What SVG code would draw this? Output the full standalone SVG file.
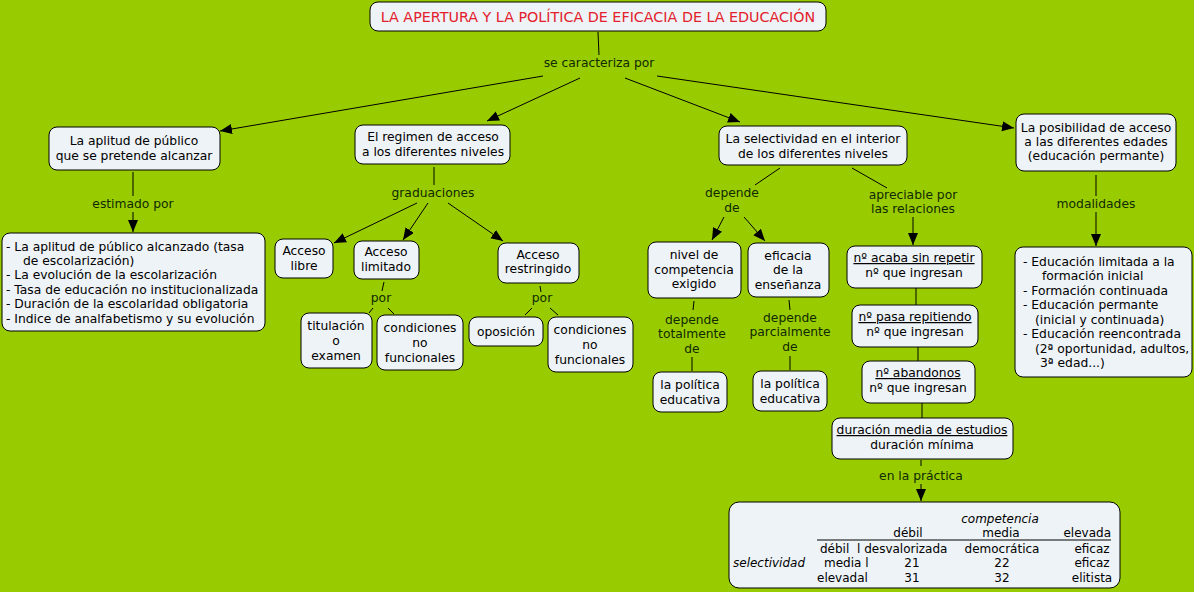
<svg xmlns="http://www.w3.org/2000/svg" width="1194" height="592" viewBox="0 0 1194 592">
<defs>
<marker id="ah" markerUnits="userSpaceOnUse" markerWidth="13" markerHeight="11" refX="12" refY="5" orient="auto">
<path d="M0,0 L12,5 L0,10 z" fill="#000"/>
</marker>
<style>
text{font-family:"DejaVu Sans",Verdana,sans-serif;font-size:12.3px;fill:#000}
.n{fill:#eef3f7;stroke:#000;stroke-width:1}
.c{text-anchor:middle}
.lb{text-anchor:middle;fill:#0f2a00}
.ln{stroke:#000;stroke-width:1;fill:none}
.ar{stroke:#000;stroke-width:1;fill:none;marker-end:url(#ah)}
.u{text-decoration:underline}
.i{font-style:italic}
.t{font-size:12px}
</style>
</defs>
<rect width="1194" height="592" fill="#99cc00"/>

<g id="connectors">
<line class="ln" x1="598" y1="32" x2="599" y2="55"/>
<line class="ar" x1="543" y1="76" x2="220" y2="131"/>
<line class="ar" x1="580" y1="78" x2="487" y2="121"/>
<line class="ar" x1="625" y1="78" x2="740" y2="122"/>
<line class="ar" x1="657" y1="76" x2="1014" y2="128"/>
<line class="ln" x1="133" y1="172" x2="133" y2="196"/>
<line class="ar" x1="133" y1="212" x2="133" y2="232"/>
<line class="ln" x1="434" y1="167" x2="434" y2="185"/>
<line class="ar" x1="417" y1="203" x2="334" y2="243"/>
<line class="ar" x1="428" y1="203" x2="403" y2="240"/>
<line class="ar" x1="448" y1="203" x2="503" y2="241"/>
<line class="ln" x1="384" y1="282" x2="382" y2="291"/>
<line class="ln" x1="373" y1="308" x2="369" y2="313"/>
<line class="ln" x1="388" y1="308" x2="394" y2="314"/>
<line class="ln" x1="540" y1="286" x2="541" y2="292"/>
<line class="ln" x1="532" y1="308" x2="525" y2="315"/>
<line class="ln" x1="550" y1="308" x2="558" y2="315"/>
<line class="ln" x1="780" y1="168" x2="755" y2="185"/>
<line class="ar" x1="724" y1="217" x2="712" y2="240"/>
<line class="ar" x1="744" y1="217" x2="765" y2="241"/>
<line class="ln" x1="694" y1="301" x2="693" y2="310"/>
<line class="ln" x1="692" y1="357" x2="692" y2="371"/>
<line class="ln" x1="789" y1="300" x2="790" y2="310"/>
<line class="ln" x1="790" y1="356" x2="790" y2="370"/>
<line class="ln" x1="852" y1="168" x2="887" y2="188"/>
<line class="ar" x1="913" y1="217" x2="913" y2="245"/>
<line class="ln" x1="916" y1="288" x2="916" y2="305"/>
<line class="ln" x1="918" y1="347" x2="918" y2="361"/>
<line class="ln" x1="922" y1="403" x2="922" y2="418"/>
<line class="ln" x1="921" y1="460" x2="921" y2="466"/>
<line class="ar" x1="921" y1="484" x2="921" y2="501"/>
<line class="ln" x1="1096" y1="175" x2="1096" y2="196"/>
<line class="ar" x1="1096" y1="212" x2="1096" y2="246"/>
</g>

<g id="labels">
<text class="lb" x="599" y="67">se caracteriza por</text>
<text class="lb" x="133" y="208">estimado por</text>
<text class="lb" x="433" y="197">graduaciones</text>
<text class="lb" x="381" y="302">por</text>
<text class="lb" x="542" y="302">por</text>
<text class="lb" x="732" y="197">depende</text>
<text class="lb" x="732" y="212">de</text>
<text class="lb" x="692" y="324">depende</text>
<text class="lb" x="692" y="338">totalmente</text>
<text class="lb" x="692" y="353">de</text>
<text class="lb" x="790" y="322">depende</text>
<text class="lb" x="790" y="336">parcialmente</text>
<text class="lb" x="790" y="351">de</text>
<text class="lb" x="913" y="199">apreciable por</text>
<text class="lb" x="913" y="213">las relaciones</text>
<text class="lb" x="921" y="480">en la práctica</text>
<text class="lb" x="1096" y="208">modalidades</text>
</g>

<g id="title">
<rect class="n" x="370" y="2" width="456" height="29" rx="8"/>
<text class="c" x="598" y="22" style="fill:#e3202b;font-size:14.3px">LA APERTURA Y LA POLÍTICA DE EFICACIA DE LA EDUCACIÓN</text>
</g>

<g id="n-aplitud">
<rect class="n" x="49" y="127" width="171" height="43" rx="8"/>
<text class="c" x="134" y="145">La aplitud de público</text>
<text class="c" x="134" y="160">que se pretende alcanzar</text>
</g>

<g id="n-indicadores">
<rect class="n" x="2" y="233" width="263" height="98" rx="8"/>
<text x="6" y="251">- La aplitud de público alcanzado (tasa</text>
<text x="23" y="265">de escolarización)</text>
<text x="6" y="279">- La evolución de la escolarización</text>
<text x="6" y="294">- Tasa de educación no institucionalizada</text>
<text x="6" y="308">- Duración de la escolaridad obligatoria</text>
<text x="6" y="323">- Indice de analfabetismo y su evolución</text>
</g>

<g id="n-regimen">
<rect class="n" x="355" y="125" width="155" height="39" rx="8"/>
<text class="c" x="433" y="141">El regimen de acceso</text>
<text class="c" x="433" y="156">a los diferentes niveles</text>
</g>

<g id="n-libre">
<rect class="n" x="275" y="239" width="58" height="39" rx="8"/>
<text class="c" x="304" y="255">Acceso</text>
<text class="c" x="304" y="270">libre</text>
</g>

<g id="n-limitado">
<rect class="n" x="354" y="241" width="65" height="38" rx="8"/>
<text class="c" x="386" y="256">Acceso</text>
<text class="c" x="386" y="271">limitado</text>
</g>

<g id="n-restringido">
<rect class="n" x="498" y="243" width="81" height="40" rx="8"/>
<text class="c" x="538" y="259">Acceso</text>
<text class="c" x="538" y="273">restringido</text>
</g>

<g id="n-titulacion">
<rect class="n" x="301" y="313" width="71" height="55" rx="8"/>
<text class="c" x="336" y="330">titulación</text>
<text class="c" x="336" y="345">o</text>
<text class="c" x="336" y="360">examen</text>
</g>

<g id="n-condiciones1">
<rect class="n" x="377" y="315" width="86" height="55" rx="8"/>
<text class="c" x="420" y="332">condiciones</text>
<text class="c" x="420" y="347">no</text>
<text class="c" x="420" y="362">funcionales</text>
</g>

<g id="n-oposicion">
<rect class="n" x="469" y="317" width="74" height="29" rx="8"/>
<text class="c" x="506" y="336">oposición</text>
</g>

<g id="n-condiciones2">
<rect class="n" x="548" y="317" width="85" height="55" rx="8"/>
<text class="c" x="590" y="334">condiciones</text>
<text class="c" x="590" y="349">no</text>
<text class="c" x="590" y="364">funcionales</text>
</g>

<g id="n-selectividad">
<rect class="n" x="719" y="126" width="188" height="39" rx="8"/>
<text class="c" x="813" y="143">La selectividad en el interior</text>
<text class="c" x="813" y="158">de los diferentes niveles</text>
</g>

<g id="n-nivel">
<rect class="n" x="648" y="242" width="93" height="56" rx="8"/>
<text class="c" x="694" y="259">nivel de</text>
<text class="c" x="694" y="274">competencia</text>
<text class="c" x="694" y="288">exigido</text>
</g>

<g id="n-eficacia">
<rect class="n" x="748" y="243" width="81" height="54" rx="8"/>
<text class="c" x="788" y="260">eficacia</text>
<text class="c" x="788" y="274">de la</text>
<text class="c" x="788" y="289">enseñanza</text>
</g>

<g id="n-politica1">
<rect class="n" x="653" y="372" width="74" height="40" rx="8"/>
<text class="c" x="690" y="389">la política</text>
<text class="c" x="690" y="404">educativa</text>
</g>

<g id="n-politica2">
<rect class="n" x="753" y="371" width="74" height="40" rx="8"/>
<text class="c" x="790" y="388">la política</text>
<text class="c" x="790" y="403">educativa</text>
</g>

<g id="n-acaba">
<rect class="n" x="847" y="246" width="135" height="42" rx="8"/>
<text class="c u" x="914" y="262">nº acaba sin repetir</text>
<text class="c" x="914" y="277">nº que ingresan</text>
</g>

<g id="n-pasa">
<rect class="n" x="852" y="305" width="126" height="42" rx="8"/>
<text class="c u" x="915" y="321">nº pasa repitiendo</text>
<text class="c" x="915" y="336">nº que ingresan</text>
</g>

<g id="n-abandonos">
<rect class="n" x="862" y="361" width="113" height="42" rx="8"/>
<text class="c u" x="918" y="377">nº abandonos</text>
<text class="c" x="918" y="392">nº que ingresan</text>
</g>

<g id="n-duracion">
<rect class="n" x="832" y="418" width="181" height="41" rx="8"/>
<text class="c u" x="922" y="434">duración media de estudios</text>
<text class="c" x="922" y="449">duración mínima</text>
</g>

<g id="n-tabla">
<rect class="n" x="729" y="502" width="391" height="86" rx="10"/>
<text class="c i t" x="1000" y="523">competencia</text>
<text class="c t" x="908" y="537">débil</text>
<text class="c t" x="1001" y="537">media</text>
<text class="t" x="1111" y="537" style="text-anchor:end">elevada</text>
<line x1="817" y1="540" x2="1111" y2="540" stroke="#000" stroke-width="1"/>
<text class="t" x="820" y="553">débil</text>
<text class="t" x="857" y="553">l desvalorizada</text>
<text class="c t" x="1002" y="553">democrática</text>
<text class="c t" x="1092" y="553">eficaz</text>
<text class="i t" x="733" y="567">selectividad</text>
<text class="t" x="824" y="567">media l</text>
<text class="c t" x="912" y="567">21</text>
<text class="c t" x="1002" y="567">22</text>
<text class="c t" x="1092" y="567">eficaz</text>
<text class="t" x="817" y="582">elevadal</text>
<text class="c t" x="912" y="582">31</text>
<text class="c t" x="1002" y="582">32</text>
<text class="c t" x="1092" y="582">elitista</text>
</g>

<g id="n-posibilidad">
<rect class="n" x="1016" y="114" width="160" height="57" rx="8"/>
<text class="c" x="1096" y="132">La posibilidad de acceso</text>
<text class="c" x="1096" y="146">a las diferentes edades</text>
<text class="c" x="1096" y="160">(educación permante)</text>
</g>

<g id="n-modalidades">
<rect class="n" x="1015" y="247" width="177" height="130" rx="8"/>
<text x="1023" y="266">- Educación limitada a la</text>
<text x="1042" y="280">formación inicial</text>
<text x="1023" y="295">- Formación continuada</text>
<text x="1023" y="309">- Educación permante</text>
<text x="1035" y="324">(inicial y continuada)</text>
<text x="1023" y="338">- Educación reencontrada</text>
<text x="1035" y="353">(2ª oportunidad, adultos,</text>
<text x="1040" y="367">3ª edad...)</text>
</g>
</svg>
